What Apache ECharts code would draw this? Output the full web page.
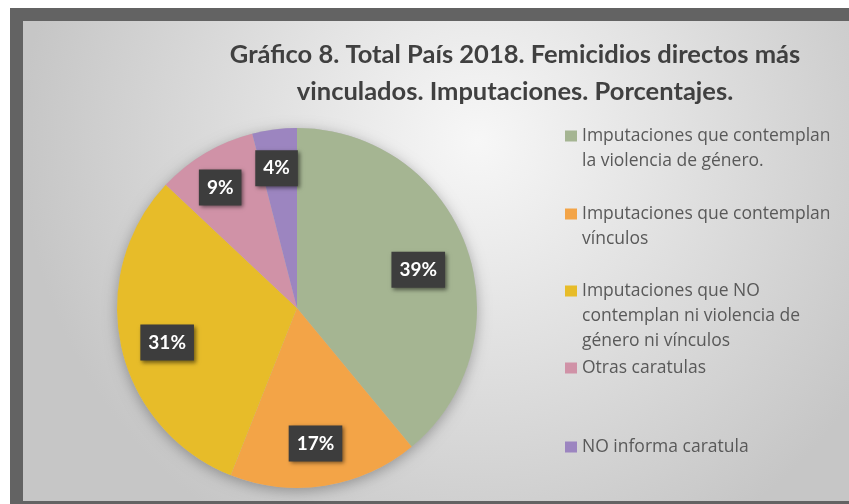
<!DOCTYPE html>
<html>
<head>
<meta charset="utf-8">
<script src="https://cdn.jsdelivr.net/npm/echarts@6/dist/echarts.min.js"></script>
<style>
html, body { margin: 0; padding: 0; background: #fff; }
#main { width: 849px; height: 504px; }
</style>
</head>
<body>
<div id="main"></div>
<script>
var titleText = 'Gráfico 8. Total País 2018. Femicidios directos más\nvinculados. Imputaciones. Porcentajes.'
var categories = [
  'Imputaciones que contemplan\nla violencia de género.',
  'Imputaciones que contemplan\nvínculos',
  'Imputaciones que NO\ncontemplan ni violencia de\ngénero ni vínculos',
  'Otras caratulas',
  'NO informa caratula'
]
var values = [39, 17, 31, 9, 4]
var colors = ['#a5b592', '#f3a447', '#e7bc29', '#d092a7', '#9c85c0']

var CX = 297
var CY = 308
var R = 180
var LH = 25
// centro vertical de la primera linea de cada item de la leyenda
var legendLineY = [136, 214, 291, 368, 447]

var chart = echarts.init(document.getElementById('main'))

// el marcador de la leyenda queda centrado en el bloque de texto,
// asi que se agregan lineas vacias arriba para que quede a la altura de la primera linea
var legends = categories.map(function (name, i) {
  var n = name.split('\n').length
  return {
    data: [name],
    left: 565,
    top: legendLineY[i] - (n - 1) * LH - LH / 2,
    orient: 'vertical',
    icon: 'rect',
    itemWidth: 12,
    itemHeight: 11,
    padding: 0,
    selectedMode: false,
    formatter: function (s) {
      return new Array(n).join('\n') + s
    },
    textStyle: {
      fontFamily: 'Open Sans',
      fontSize: 17.5,
      color: '#595959',
      lineHeight: LH
    }
  }
})

var option = {
  animation: false,
  color: colors,
  title: {
    text: titleText,
    left: 510,
    top: 31,
    textAlign: 'center',
    textStyle: {
      fontFamily: 'Lato',
      fontWeight: 'bold',
      fontSize: 25.5,
      lineHeight: 37,
      color: '#404040'
    }
  },
  legend: legends,
  graphic: [
    {
      type: 'rect',
      z: -10,
      silent: true,
      shape: { x: 10, y: 8, width: 839, height: 496 },
      style: { fill: '#636363' }
    },
    {
      type: 'rect',
      z: -9,
      silent: true,
      shape: { x: 23, y: 21, width: 826, height: 480 },
      style: {
        fill: new echarts.graphic.RadialGradient(0.55, 0.25, 0.95, [
          { offset: 0, color: '#f7f7f7' },
          { offset: 1, color: '#c6c6c6' }
        ])
      }
    }
  ],
  series: [
    {
      // sombra del circulo
      type: 'pie',
      silent: true,
      center: [CX, CY],
      radius: [0, R],
      z: 1,
      label: { show: false },
      labelLine: { show: false },
      data: [{ value: 1, name: '' }],
      itemStyle: {
        color: '#bbbbbb',
        shadowColor: 'rgba(0,0,0,0.3)',
        shadowBlur: 14,
        shadowOffsetY: 3
      }
    },
    {
      type: 'pie',
      center: [CX, CY],
      radius: [0, R],
      startAngle: 90,
      clockwise: true,
      z: 2,
      data: categories.map(function (n, i) {
        return { name: n, value: values[i] }
      }),
      label: {
        show: true,
        position: 'inside',
        formatter: '{c}%',
        fontFamily: 'Lato',
        fontWeight: 'bold',
        fontSize: 19,
        color: '#ffffff',
        backgroundColor: '#3d3d3d',
        padding: [9, 8, 8, 8],
        shadowColor: 'rgba(0,0,0,0.5)',
        shadowBlur: 4,
        shadowOffsetX: 2,
        shadowOffsetY: 2
      },
      labelLayout: function (p) {
        var r = p.labelRect
        var x = r.x + r.width / 2 - CX
        var y = r.y + r.height / 2 - CY
        var d = Math.sqrt(x * x + y * y)
        var target = values[p.dataIndex] < 10 ? 147 : 131
        var k = target / d - 1
        return { dx: x * k - 2, dy: y * k + 6 }
      },
      labelLine: { show: false },
      itemStyle: { borderWidth: 0 },
      emphasis: { disabled: true }
    }
  ]
}

chart.setOption(option)
</script>
</body>
</html>
